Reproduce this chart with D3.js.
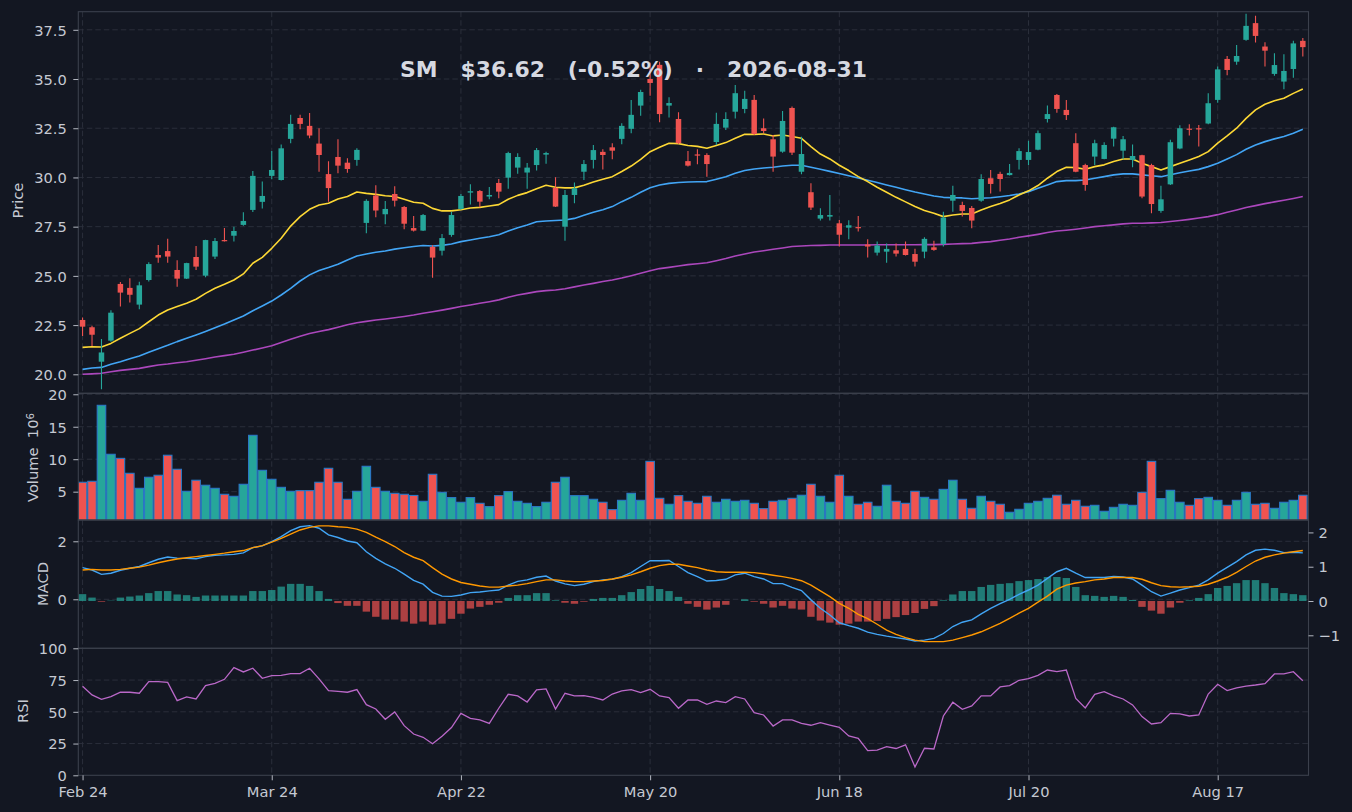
<!DOCTYPE html>
<html>
<head>
<meta charset="utf-8">
<script src="https://cdn.jsdelivr.net/npm/d3@7"></script>
<style>
  html, body { margin: 0; padding: 0; background: #131722; }
  svg { display: block; }
  text { font-family: "DejaVu Sans", sans-serif; }
</style>
</head>
<body>
<svg id="chart" width="1352" height="812"></svg>
<script>
// ---------------- DATA ----------------
const ticker = "SM";
const lastDate = "2026-08-31";
const tickIdx = [0, 20, 40, 60, 80, 100, 120];
const tickLabels = ["Feb 24", "Mar 24", "Apr 22", "May 20", "Jun 18", "Jul 20", "Aug 17"];

const open = [22.76,22.39,20.64,21.71,24.59,24.39,23.54,24.79,26.06,26.26,25.30,24.86,25.96,25.01,25.98,26.82,27.04,27.59,28.35,28.76,
30.08,29.87,31.96,33.02,32.62,31.72,30.17,31.04,30.75,30.89,27.69,29.08,28.13,29.16,28.50,27.43,27.30,26.47,26.28,27.08,
28.40,29.23,29.31,29.03,29.72,29.99,30.50,30.25,30.63,31.16,29.47,27.50,29.11,30.29,30.89,31.30,31.53,31.96,32.47,33.65,
35.00,35.72,33.65,32.97,30.83,31.17,31.14,31.80,32.53,33.34,33.48,33.94,32.50,31.94,31.31,33.53,30.29,29.25,27.91,28.01,
27.67,27.45,27.48,26.59,26.18,26.23,26.30,26.37,26.11,26.23,26.45,26.62,28.82,28.60,28.45,28.82,29.96,30.18,30.12,30.89,
30.89,31.41,32.97,34.19,33.43,31.74,30.63,31.06,30.94,31.97,31.36,30.89,31.13,30.63,28.30,29.65,31.47,32.48,32.50,32.74,
33.94,36.02,35.88,36.99,37.84,36.65,35.26,34.87,35.51,36.94];
const high = [22.89,22.47,21.79,23.25,24.69,24.88,24.70,25.69,26.57,26.88,25.79,25.67,26.52,26.84,26.92,27.43,27.50,28.23,30.33,29.80,
31.34,31.68,33.18,33.18,33.28,32.50,30.82,31.94,30.97,31.48,28.89,29.60,28.81,29.55,28.55,28.04,28.14,26.55,27.13,28.26,
29.16,29.65,29.36,29.52,29.92,31.30,31.23,30.74,31.50,31.30,30.01,29.36,29.74,30.89,31.65,31.43,31.74,32.75,33.94,34.45,
35.83,35.88,34.07,33.31,31.34,31.43,31.23,33.29,33.31,34.70,34.40,34.19,33.00,32.16,33.38,33.60,32.07,29.70,28.43,29.11,
27.84,27.82,28.04,26.86,26.74,26.65,26.65,26.74,26.38,26.96,26.79,28.26,29.58,28.77,28.55,30.16,30.38,30.29,30.68,31.48,
31.87,32.38,33.65,34.24,33.94,32.24,30.69,31.91,31.79,32.58,32.11,31.68,31.15,30.69,29.58,31.91,32.65,32.70,32.67,34.28,
35.63,36.17,36.73,38.31,38.21,36.87,36.31,36.26,36.94,37.08];
const low = [21.95,21.44,19.24,21.66,23.44,23.65,23.30,24.71,25.67,25.67,24.45,24.84,25.30,24.93,25.86,26.74,26.74,27.55,28.25,28.42,
29.91,29.84,31.74,32.45,31.99,30.29,28.77,30.21,30.24,30.60,27.16,27.98,27.62,28.52,27.37,27.25,27.28,24.91,26.03,26.99,
28.36,28.63,28.48,28.89,28.94,29.43,30.19,29.43,30.35,30.70,28.50,26.79,28.69,29.87,30.46,30.41,30.92,31.69,32.25,33.14,
34.15,32.80,33.05,31.70,30.55,30.67,30.04,31.65,32.41,33.00,33.26,32.16,32.25,30.29,31.26,31.14,30.16,28.35,27.81,27.81,
26.49,26.86,27.25,25.93,26.03,25.67,25.98,26.04,25.47,25.89,26.28,26.49,28.26,28.01,27.42,28.77,29.19,29.28,30.10,30.41,
30.63,31.38,32.79,33.29,32.92,30.26,29.33,30.63,30.92,31.57,30.92,30.52,28.94,28.18,28.21,29.62,31.43,32.13,31.57,32.70,
33.80,35.19,35.72,36.95,36.85,35.63,35.17,34.48,35.07,36.14];
const close = [22.42,22.01,21.11,23.13,24.15,24.04,24.52,25.60,25.93,25.98,24.86,25.65,25.47,26.82,26.77,26.77,27.28,27.79,30.08,29.06,
30.38,31.48,32.72,32.72,32.13,31.14,29.46,30.60,30.43,31.40,28.81,28.32,28.40,28.82,27.65,27.30,28.09,25.93,26.92,28.09,
29.06,29.30,28.77,29.11,29.28,31.24,31.04,30.50,31.39,31.24,28.52,29.11,29.45,30.68,31.39,31.14,31.36,32.62,33.18,34.34,
34.80,33.22,33.78,31.74,30.60,31.14,30.68,32.72,32.97,34.28,33.99,32.21,32.36,31.06,32.87,31.26,31.19,28.47,28.09,28.09,
27.09,27.57,27.42,26.49,26.54,26.37,26.13,26.06,25.72,26.88,26.32,27.96,29.11,28.30,27.81,29.92,29.67,29.92,30.23,31.34,
31.29,32.25,33.22,33.48,33.17,30.29,29.62,31.74,31.65,32.55,31.94,31.09,29.03,28.65,28.89,31.79,32.50,32.45,32.45,33.77,
35.49,35.46,36.17,37.70,37.19,36.44,35.71,35.41,36.81,36.62];
// volume in millions
const volume = [6.45,6.60,18.30,10.76,10.13,7.83,5.52,7.22,7.53,10.61,8.45,5.06,6.76,5.99,5.52,4.60,4.29,6.14,13.68,8.29,
6.91,5.67,5.06,5.16,5.16,6.45,8.60,6.45,3.83,5.06,8.91,5.67,5.06,4.75,4.60,4.42,3.52,7.68,4.90,4.09,
3.37,4.09,3.21,2.70,4.39,5.01,3.52,3.21,2.70,3.37,6.45,7.22,4.39,4.39,3.83,3.37,2.24,3.67,4.75,3.67,
9.67,3.98,3.06,4.39,3.52,3.21,4.29,3.37,3.83,3.52,3.67,3.21,2.39,3.52,3.67,3.98,4.45,6.14,4.29,3.37,
7.53,4.29,3.06,3.37,2.75,5.99,3.52,3.21,5.06,4.13,3.83,5.36,6.76,3.83,2.44,4.29,3.52,3.06,1.83,2.29,
3.21,3.52,3.98,4.45,3.06,3.67,2.75,2.90,1.98,2.59,3.06,2.90,4.90,9.67,3.93,5.21,3.37,2.90,3.93,4.13,
3.67,2.90,3.67,4.90,3.06,3.21,2.44,3.37,3.67,4.45];
const maFast = [21.37,21.40,21.39,21.57,21.83,22.08,22.32,22.67,23.01,23.27,23.44,23.61,23.81,24.11,24.37,24.57,24.79,25.10,25.64,25.94,
26.40,26.91,27.53,28.01,28.38,28.60,28.69,28.91,29.03,29.26,29.19,29.14,29.07,29.03,28.89,28.74,28.69,28.43,28.30,28.30,
28.36,28.45,28.48,28.55,28.62,28.89,29.09,29.23,29.43,29.60,29.50,29.47,29.47,29.60,29.77,29.91,30.04,30.30,30.58,30.92,
31.31,31.53,31.74,31.72,31.62,31.58,31.48,31.62,31.77,31.99,32.19,32.19,32.21,32.11,32.16,32.08,31.99,31.57,31.19,30.94,
30.62,30.35,30.04,29.79,29.50,29.25,28.99,28.76,28.52,28.32,28.18,28.01,28.09,28.14,28.14,28.35,28.52,28.68,28.86,29.11,
29.32,29.59,29.96,30.30,30.52,30.50,30.42,30.55,30.64,30.81,30.94,30.94,30.72,30.55,30.38,30.55,30.72,30.89,31.06,31.31,
31.74,32.11,32.50,33.00,33.43,33.72,33.90,34.02,34.27,34.49];
const maMid = [20.25,20.32,20.35,20.51,20.64,20.79,20.93,21.12,21.30,21.47,21.66,21.83,22.00,22.18,22.37,22.55,22.76,22.96,23.23,23.47,
23.72,24.03,24.37,24.74,25.05,25.27,25.42,25.59,25.81,26.01,26.11,26.20,26.26,26.36,26.43,26.49,26.54,26.52,26.55,26.62,
26.74,26.82,26.91,26.99,27.09,27.28,27.45,27.58,27.75,27.79,27.81,27.84,27.92,28.08,28.23,28.36,28.52,28.77,28.99,29.25,
29.48,29.62,29.70,29.74,29.77,29.78,29.79,29.91,30.04,30.21,30.35,30.43,30.48,30.52,30.58,30.62,30.62,30.52,30.42,30.31,
30.20,30.09,29.97,29.86,29.74,29.62,29.50,29.38,29.26,29.16,29.06,28.99,28.97,28.96,28.92,28.94,28.97,29.02,29.08,29.16,
29.28,29.45,29.62,29.79,29.84,29.84,29.87,29.96,30.04,30.13,30.18,30.18,30.13,30.09,30.04,30.14,30.24,30.33,30.41,30.55,
30.72,30.94,31.16,31.43,31.65,31.82,31.96,32.08,32.25,32.45];
const maSlow = [20.00,20.02,20.05,20.13,20.20,20.25,20.30,20.39,20.47,20.52,20.59,20.64,20.71,20.79,20.88,20.95,21.02,21.12,21.23,21.34,
21.45,21.61,21.78,21.93,22.07,22.17,22.27,22.39,22.52,22.62,22.69,22.76,22.81,22.87,22.94,23.01,23.10,23.18,23.26,23.35,
23.44,23.52,23.61,23.69,23.78,23.91,24.03,24.11,24.20,24.25,24.28,24.35,24.44,24.54,24.62,24.71,24.79,24.89,25.01,25.13,
25.26,25.37,25.43,25.50,25.57,25.62,25.67,25.77,25.88,26.01,26.11,26.21,26.28,26.35,26.42,26.49,26.52,26.54,26.55,26.57,
26.57,26.57,26.57,26.57,26.58,26.58,26.58,26.58,26.58,26.59,26.59,26.60,26.62,26.64,26.65,26.70,26.74,26.81,26.87,26.96,
27.03,27.11,27.20,27.28,27.32,27.37,27.43,27.50,27.55,27.59,27.64,27.67,27.67,27.69,27.71,27.76,27.81,27.87,27.94,28.01,
28.11,28.23,28.35,28.47,28.57,28.67,28.76,28.84,28.93,29.03];
const macdLine = [1.09,1.01,0.86,0.90,1.00,1.07,1.13,1.26,1.38,1.46,1.42,1.41,1.40,1.47,1.52,1.53,1.55,1.60,1.78,1.84,
1.99,2.16,2.37,2.50,2.54,2.45,2.22,2.13,2.01,1.95,1.64,1.41,1.22,1.07,0.87,0.65,0.52,0.24,0.11,0.10,
0.15,0.23,0.25,0.29,0.32,0.49,0.62,0.67,0.76,0.80,0.63,0.53,0.47,0.52,0.61,0.67,0.69,0.78,0.92,1.13,
1.33,1.33,1.34,1.13,0.92,0.78,0.63,0.65,0.69,0.84,0.90,0.78,0.70,0.54,0.54,0.41,0.30,-0.02,-0.31,-0.54,
-0.81,-0.91,-1.00,-1.13,-1.21,-1.27,-1.32,-1.37,-1.44,-1.41,-1.35,-1.18,-0.94,-0.79,-0.71,-0.50,-0.31,-0.15,0.00,0.17,
0.32,0.49,0.72,0.95,1.07,0.90,0.75,0.75,0.75,0.79,0.77,0.70,0.49,0.26,0.11,0.21,0.32,0.40,0.49,0.67,
0.90,1.10,1.30,1.53,1.69,1.73,1.69,1.61,1.62,1.60];
const signalLine = [1.01,1.03,1.01,1.01,1.03,1.07,1.11,1.18,1.26,1.33,1.39,1.43,1.47,1.51,1.55,1.59,1.64,1.68,1.78,1.85,
1.97,2.10,2.25,2.39,2.48,2.53,2.53,2.50,2.48,2.42,2.31,2.14,1.99,1.82,1.61,1.45,1.33,1.09,0.87,0.70,
0.58,0.52,0.46,0.42,0.42,0.46,0.49,0.54,0.61,0.67,0.67,0.63,0.61,0.61,0.63,0.65,0.70,0.76,0.84,0.95,
1.07,1.16,1.21,1.21,1.15,1.09,1.01,0.95,0.93,0.93,0.93,0.92,0.88,0.83,0.78,0.72,0.64,0.49,0.29,0.09,
-0.14,-0.31,-0.52,-0.67,-0.86,-1.06,-1.21,-1.32,-1.41,-1.46,-1.46,-1.46,-1.41,-1.32,-1.23,-1.12,-0.98,-0.83,-0.66,-0.48,
-0.31,-0.10,0.11,0.35,0.49,0.56,0.61,0.67,0.70,0.75,0.75,0.75,0.69,0.57,0.47,0.43,0.42,0.43,0.45,0.52,
0.63,0.76,0.93,1.13,1.32,1.45,1.53,1.59,1.64,1.68];
const macdHist = [0.20,0.10,-0.02,0.01,0.10,0.13,0.16,0.23,0.29,0.29,0.19,0.17,0.12,0.16,0.16,0.16,0.16,0.16,0.29,0.29,
0.32,0.42,0.50,0.50,0.44,0.29,0.06,-0.06,-0.14,-0.14,-0.31,-0.46,-0.54,-0.54,-0.60,-0.66,-0.60,-0.69,-0.66,-0.52,
-0.37,-0.22,-0.17,-0.11,-0.05,0.09,0.17,0.17,0.23,0.23,0.02,-0.05,-0.08,-0.02,0.06,0.09,0.09,0.17,0.26,0.35,
0.44,0.35,0.29,0.12,-0.08,-0.17,-0.25,-0.19,-0.11,0.00,0.05,-0.02,-0.08,-0.19,-0.14,-0.22,-0.25,-0.46,-0.57,-0.63,
-0.69,-0.66,-0.60,-0.60,-0.58,-0.52,-0.47,-0.41,-0.35,-0.23,-0.15,0.02,0.19,0.29,0.29,0.41,0.47,0.50,0.52,0.58,
0.61,0.64,0.70,0.70,0.67,0.41,0.17,0.15,0.12,0.15,0.12,0.03,-0.17,-0.28,-0.37,-0.19,-0.05,0.02,0.09,0.20,
0.38,0.44,0.52,0.61,0.61,0.52,0.38,0.23,0.20,0.17];
const rsi = [70.1,63.3,59.8,61.9,65.4,65.4,64.6,73.8,73.8,73.2,58.8,61.7,60.1,70.6,72.4,75.6,84.8,81.4,84.3,76.4,
78.5,78.7,80.1,80.1,84.3,75.9,66.7,66.1,65.4,67.5,55.6,52.2,44.1,49.9,39.1,32.5,29.9,24.9,30.7,37.6,
48.8,44.9,43.6,40.9,52.8,63.8,62.5,57.7,67.2,68.0,52.2,64.6,62.5,62.7,61.4,59.3,64.0,66.4,67.5,65.1,
67.7,62.5,61.2,52.8,59.3,59.3,55.9,58.5,57.2,61.9,60.1,49.3,47.5,38.8,43.6,43.6,40.9,39.4,41.5,39.6,
37.8,31.0,29.1,19.4,19.9,22.6,21.1,24.0,6.6,21.3,20.7,46.7,57.5,52.0,54.6,62.5,62.5,69.6,70.6,74.8,
76.1,78.7,82.9,81.6,82.9,60.6,53.0,63.8,65.9,62.5,60.1,55.4,46.2,40.4,41.5,48.8,48.3,46.7,47.5,64.0,
71.7,66.7,68.8,70.3,71.1,72.2,79.8,79.8,81.6,74.5];

const priceTicks = [20, 22.5, 25, 27.5, 30, 32.5, 35, 37.5];
const volTicks = [5, 10, 15, 20];
const macdLeftTicks = [0, 2];
const macdRightTicks = [-1, 0, 1, 2];
const rsiTicks = [0, 25, 50, 75, 100];

// ---------------- STYLE / LAYOUT ----------------
const C = {
  bg: "#131722", grid: "#2c313d", border: "#3b404c", text: "#c5c9d2", title: "#d6d9e1",
  up: "#26a69a", down: "#ef5350", volEdge: "#2b78c6",
  maFast: "#fdd835", maMid: "#42a5f5", maSlow: "#ab47bc",
  macd: "#42a5f5", signal: "#ff9800", rsi: "#ba68c8"
};
const FS = 14.67;
const L = 78.3, R = 1308.5;
const panels = {
  price: [11.7, 393.3], vol: [393.3, 520], macd: [520, 648.3], rsi: [648.3, 775.3]
};

const svg = d3.select("#chart");
svg.append("rect").attr("width", 1352).attr("height", 812).attr("fill", C.bg);

const n = close.length;
const idx = d3.range(n);
const x = d3.scaleLinear().domain([-0.45, 129.6]).range([L, R]);
const step = x(1) - x(0);

const yP = d3.scaleLinear().domain([19.035, 38.42]).range([panels.price[1], panels.price[0]]);
const yV = d3.scaleLinear().domain([0.64, 20.15]).range([panels.vol[1], panels.vol[0]]);
const yM = d3.scaleLinear().domain([-1.69, 2.734]).range([panels.macd[1], panels.macd[0]]);
const yH = d3.scaleLinear().domain([-1.379, 2.362]).range([panels.macd[1], panels.macd[0]]);
const yR = d3.scaleLinear().domain([0, 100]).range([panels.rsi[1], panels.rsi[0]]);

const defs = svg.append("defs");
Object.entries(panels).forEach(([k, [t, b]]) => {
  defs.append("clipPath").attr("id", "clip-" + k)
    .append("rect").attr("x", L).attr("y", t).attr("width", R - L).attr("height", b - t);
});

function grid(g, yScale, ticks, top, bottom) {
  g.selectAll(".hg").data(ticks).join("line")
    .attr("x1", L).attr("x2", R)
    .attr("y1", d => yScale(d)).attr("y2", d => yScale(d))
    .attr("stroke", C.grid).attr("stroke-width", 0.9).attr("stroke-dasharray", "5.5,3");
  g.selectAll(".vg").data(tickIdx).join("line")
    .attr("x1", d => x(d)).attr("x2", d => x(d))
    .attr("y1", top).attr("y2", bottom)
    .attr("stroke", C.grid).attr("stroke-width", 0.9).attr("stroke-dasharray", "5.5,3");
}

function leftAxis(yScale, ticks, fmt) {
  const g = svg.append("g").attr("transform", `translate(${L},0)`)
    .call(d3.axisLeft(yScale).tickValues(ticks).tickFormat(fmt).tickSize(5).tickPadding(6.5));
  g.select(".domain").remove();
  g.selectAll("line").attr("stroke", C.text).attr("stroke-width", 0.9);
  g.selectAll("text").attr("fill", C.text).style("font-size", FS + "px").attr("dy", "0.36em");
  return g;
}

function ylabel(txt, bx, cy) {
  return svg.append("text").attr("transform", `translate(${bx},${cy}) rotate(-90)`)
    .attr("text-anchor", "middle").attr("fill", C.text).style("font-size", FS + "px").text(txt);
}

// ---------- grids ----------
const gridG = svg.append("g");
grid(gridG.append("g"), yP, priceTicks, panels.price[0], panels.price[1]);
grid(gridG.append("g"), yV, volTicks, panels.vol[0], panels.vol[1]);
grid(gridG.append("g"), yM, macdLeftTicks, panels.macd[0], panels.macd[1]);
grid(gridG.append("g"), yR, [25, 50, 75], panels.rsi[0], panels.rsi[1]);

// ---------- price panel ----------
const pg = svg.append("g").attr("clip-path", "url(#clip-price)");
const lineP = arr => d3.line().x((d, i) => x(i)).y(d => yP(d))(arr);
[[maSlow, C.maSlow], [maMid, C.maMid], [maFast, C.maFast]].forEach(([arr, col]) => {
  pg.append("path").attr("d", lineP(arr)).attr("fill", "none")
    .attr("stroke", col).attr("stroke-width", 1.6).attr("stroke-linejoin", "round");
});
const isUp = i => close[i] >= open[i];
const bodyW = step * 0.58;
const candles = pg.selectAll(".c").data(idx).join("g");
candles.append("line")
  .attr("x1", i => x(i)).attr("x2", i => x(i))
  .attr("y1", i => yP(high[i])).attr("y2", i => yP(low[i]))
  .attr("stroke", i => isUp(i) ? C.up : C.down).attr("stroke-width", 1.1);
candles.append("rect")
  .attr("x", i => x(i) - bodyW / 2).attr("width", bodyW)
  .attr("y", i => yP(Math.max(open[i], close[i])))
  .attr("height", i => Math.max(1.2, Math.abs(yP(open[i]) - yP(close[i]))))
  .attr("fill", i => isUp(i) ? C.up : C.down);

svg.append("text").attr("x", 633.5).attr("y", 77.3).attr("text-anchor", "middle")
  .attr("fill", C.title).style("font-size", "21.9px").style("font-weight", "bold")
  .style("white-space", "pre").attr("xml:space", "preserve")
  .text(`${ticker}   $${close[n - 1].toFixed(2)}   (${((close[n - 1] / close[n - 2] - 1) * 100).toFixed(2)}%)   ·   ${lastDate}`);

// ---------- volume panel ----------
const vg = svg.append("g").attr("clip-path", "url(#clip-vol)");
const volW = step * 0.9;
vg.selectAll("rect").data(idx).join("rect")
  .attr("x", i => x(i) - volW / 2).attr("width", volW)
  .attr("y", i => yV(volume[i])).attr("height", i => yV.range()[0] - yV(volume[i]) + 2)
  .attr("fill", i => isUp(i) ? C.up : C.down)
  .attr("stroke", C.volEdge).attr("stroke-width", 1.1);

// ---------- MACD panel ----------
const mg = svg.append("g").attr("clip-path", "url(#clip-macd)");
const histW = step * 0.78;
mg.selectAll("rect").data(idx).join("rect")
  .attr("x", i => x(i) - histW / 2).attr("width", histW)
  .attr("y", i => Math.min(yH(0), yH(macdHist[i])))
  .attr("height", i => Math.abs(yH(macdHist[i]) - yH(0)))
  .attr("fill", i => macdHist[i] >= 0 ? C.up : C.down).attr("fill-opacity", 0.7);
const lineM = arr => d3.line().x((d, i) => x(i)).y(d => yM(d))(arr);
mg.append("path").attr("d", lineM(macdLine)).attr("fill", "none").attr("stroke", C.macd).attr("stroke-width", 1.4);
mg.append("path").attr("d", lineM(signalLine)).attr("fill", "none").attr("stroke", C.signal).attr("stroke-width", 1.4);

// ---------- RSI panel ----------
const rg = svg.append("g").attr("clip-path", "url(#clip-rsi)");
rg.append("path").attr("d", d3.line().x((d, i) => x(i)).y(d => yR(d))(rsi))
  .attr("fill", "none").attr("stroke", C.rsi).attr("stroke-width", 1.3);

// ---------- panel borders ----------
Object.values(panels).forEach(([t, b]) => {
  svg.append("rect").attr("x", L).attr("y", t).attr("width", R - L).attr("height", b - t)
    .attr("fill", "none").attr("stroke", C.border).attr("stroke-width", 1.1);
});

// ---------- axes ----------
leftAxis(yP, priceTicks, d3.format(".1f"));
leftAxis(yV, volTicks, d3.format("d"));
leftAxis(yM, macdLeftTicks, d3.format("d"));
leftAxis(yR, rsiTicks, d3.format("d"));

const rAx = svg.append("g").attr("transform", `translate(${R},0)`)
  .call(d3.axisRight(yH).tickValues(macdRightTicks).tickFormat(d3.format("d")).tickSize(5).tickPadding(5));
rAx.select(".domain").remove();
rAx.selectAll("line").attr("stroke", C.text).attr("stroke-width", 0.9);
rAx.selectAll("text").attr("fill", C.text).style("font-size", FS + "px").attr("dy", "0.36em");

const bAx = svg.append("g").attr("transform", `translate(0,${panels.rsi[1]})`)
  .call(d3.axisBottom(x).tickValues(tickIdx).tickFormat((d, i) => tickLabels[i]).tickSize(5).tickPadding(6.4));
bAx.select(".domain").remove();
bAx.selectAll("line").attr("stroke", C.text).attr("stroke-width", 0.9);
bAx.selectAll("text").attr("fill", C.text).style("font-size", FS + "px");

// ---------- axis labels ----------
ylabel("Price", 23.3, 200.5);
const vl = svg.append("text").attr("transform", `translate(38.3,457.5) rotate(-90)`)
  .attr("text-anchor", "middle").attr("fill", C.text).style("font-size", FS + "px")
  .style("white-space", "pre").attr("xml:space", "preserve");
vl.append("tspan").text("Volume  10");
vl.append("tspan").attr("dy", "-0.45em").style("font-size", (FS * 0.7) + "px").text("6");
ylabel("MACD", 48.3, 584);
ylabel("RSI", 28.3, 711);
</script>
</body>
</html>
